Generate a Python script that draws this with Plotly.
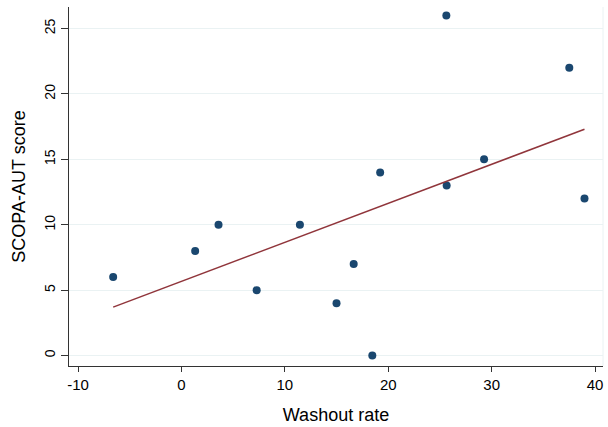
import numpy as np
import plotly.graph_objects as go

washout_rate = [-6.6, 1.33, 3.59, 7.28, 11.46, 15.0, 16.66, 18.46, 19.22, 25.62, 25.65, 29.27, 37.51, 38.98]
scopa_aut = [6, 8, 10, 5, 10, 4, 7, 0, 14, 26, 13, 15, 22, 12]
x_ticks = [-10, 0, 10, 20, 30, 40]
x_tick_labels = ["-10", "0", "10", "20", "30", "40"]
y_ticks = [0, 5, 10, 15, 20, 25]

xa = np.array(washout_rate)
ya = np.array(scopa_aut)
slope, intercept = np.polyfit(xa, ya, 1)
fit_x = [xa.min(), xa.max()]
fit_y = [intercept + slope * v for v in fit_x]

fig = go.Figure()
fig.add_trace(go.Scatter(x=washout_rate, y=scopa_aut, mode="markers",
                         marker=dict(color="#1a476f", size=8), showlegend=False))
fig.add_trace(go.Scatter(x=fit_x, y=fit_y, mode="lines",
                         line=dict(color="#90353b", width=1.5), showlegend=False))

font = "Liberation Sans, Arial, sans-serif"
fig.update_layout(
    width=608, height=427,
    margin=dict(l=69, r=5, t=7, b=54),
    paper_bgcolor="white", plot_bgcolor="white",
    font=dict(family=font, color="#000000"),
    xaxis=dict(range=[-10.87, 40.77], tickvals=x_ticks, ticktext=x_tick_labels,
               showgrid=False, zeroline=False,
               showline=True, linecolor="#333333", linewidth=1,
               ticks="outside", ticklen=5, tickcolor="#333333",
               tickfont=dict(size=15),
               title=dict(text="Washout rate", font=dict(size=18), standoff=16)),
    yaxis=dict(range=[-0.8, 26.65], tickvals=y_ticks, showgrid=True, gridcolor="#eaf2f3",
               gridwidth=1, zeroline=False,
               showline=True, linecolor="#333333", linewidth=1,
               ticks="outside", ticklen=7, tickcolor="#333333",
               tickangle=-90, tickfont=dict(size=14),
               title=dict(text="SCOPA-AUT score", font=dict(size=18), standoff=12)),
)
fig.add_shape(type="line", xref="paper", yref="paper", x0=1, x1=1, y0=0, y1=1,
              line=dict(color="#eaf2f3", width=1))
fig.write_html("out.html", config={"displayModeBar": False},
               post_script="document.body.style.margin='0px';document.body.style.overflow='hidden';")
